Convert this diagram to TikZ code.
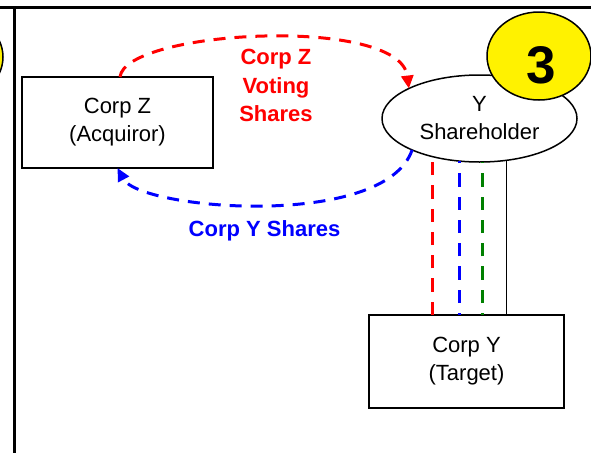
\documentclass[tikz,border=0pt]{standalone}
\usepackage{fontspec}
\setmainfont{Liberation Sans}
\usetikzlibrary{shapes.geometric,arrows.meta}
\definecolor{dgreen}{RGB}{0,128,0}
\begin{document}
\begin{tikzpicture}[x=1pt,y=-1pt,
  frame/.style={line width=3pt},
  box/.style={draw, line width=1.5pt, rectangle, inner sep=0pt, outer sep=0pt,
    align=center, font=\fontsize{22}{28}\selectfont},
  oval/.style={draw, line width=1.5pt, ellipse, inner sep=0pt, outer sep=0pt,
    align=center, font=\fontsize{22}{28}\selectfont},
  ball/.style={draw, line width=1.5pt, ellipse, fill=yellow, inner sep=0pt, outer sep=0pt,
    minimum width=104pt, minimum height=88pt},
  vdash/.style={line width=3pt, dash pattern=on 13.3pt off 10pt},
  cdash/.style={line width=3pt, dash pattern=on 12pt off 9pt,
    -{Triangle[length=13pt,width=12pt]}},
  lbl/.style={inner sep=0pt, align=center, font=\bfseries\fontsize{22}{28.5}\selectfont}
]
\useasboundingbox (0,0) rectangle (591,453);
\fill[white] (0,0) rectangle (591,453);

% panel frame
\draw[frame] (0,7.5) -- (591,7.5);
\draw[frame] (14.5,7.5) -- (14.5,453);

% nodes
\node[box, minimum width=191pt, minimum height=91pt] (Cz) at (117.5,122.5) {Corp Z\\(Acquiror)};
\node[box, minimum width=195pt, minimum height=93pt] (Cy) at (466.5,361.5) {Corp Y\\(Target)};
\node[oval, minimum width=195pt, minimum height=87pt] (Ys) at (479.5,118.5) {Y\\Shareholder};

% vertical connectors from target to shareholder
\draw[vdash, red] (Ys.219.4 |- Cy.north) -- (Ys.219.4);
\draw[vdash, blue, dash phase=11.3pt] (Ys.245.4 |- Cy.north) -- (Ys.245.4);
\draw[vdash, dgreen, dash phase=11.3pt] (Ys.274.6 |- Cy.north) -- (Ys.274.6);
\draw[line width=1.5pt] (Ys.303.4 |- Cy.north) -- (Ys.303.4);

% share exchange arrows
\draw[cdash, red] ([xshift=2.5pt]Cz.north) .. controls (125,30) and (400,15) .. (Ys.157);
\draw[cdash, blue] (Ys.205) .. controls (385,230) and (140,210) .. (Cz.south);

% labels
\node[lbl, text=red] (lz) at (276,85.5) {Corp Z\\Voting\\Shares};
\node[lbl, text=blue, anchor=base] (ly) at (264.5,236) {Corp Y Shares};

% step markers
\begin{scope}
\clip (0,0) rectangle (591,453);
\node[ball] (prev) at (-49,57) {};
\node[ball] (step) at (539,56) {};
\end{scope}
\node[inner sep=0pt, anchor=base, font=\bfseries\fontsize{53}{53}\selectfont] (n3) at (541,83) {3};
\end{tikzpicture}
\end{document}
